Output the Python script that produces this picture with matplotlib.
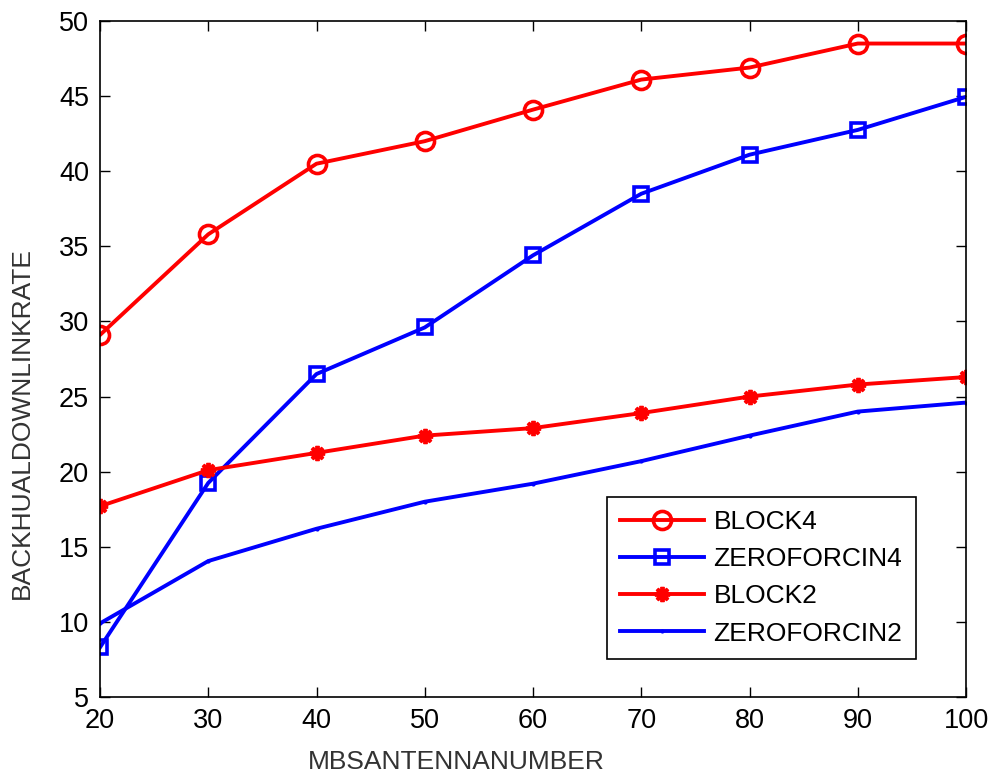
import matplotlib
matplotlib.use("Agg")
import matplotlib.pyplot as plt

plt.rcParams['font.family'] = ['Liberation Sans', 'DejaVu Sans']

antennas = [20, 30, 40, 50, 60, 70, 80, 90, 100]
block4 = [29.1, 35.8, 40.5, 42.0, 44.1, 46.1, 46.9, 48.5, 48.5]
zeroforcin4 = [8.3, 19.25, 26.5, 29.6, 34.4, 38.5, 41.1, 42.75, 44.95]
block2 = [17.7, 20.1, 21.25, 22.4, 22.9, 23.9, 25.0, 25.8, 26.3]
zeroforcin2 = [9.9, 14.05, 16.2, 18.0, 19.2, 20.7, 22.4, 24.0, 24.6]

x_ticks = [20, 30, 40, 50, 60, 70, 80, 90, 100]
y_ticks = [5, 10, 15, 20, 25, 30, 35, 40, 45, 50]

fig = plt.figure(figsize=(9.95, 7.83), dpi=100)
ax = fig.add_axes([100 / 995, 1 - 697 / 783, 866 / 995, 676 / 783])

lw = 2.8
ax.plot(antennas, block4, color='#ff0000', lw=lw, marker='o', ms=13,
        mfc='none', mew=2.6, label='BLOCK4')
ax.plot(antennas, zeroforcin4, color='#0000ff', lw=lw, marker='s', ms=10.5,
        mfc='none', mew=2.6, label='ZEROFORCIN4')
ax.plot(antennas, block2, color='#ff0000', lw=lw, marker=(8, 2, 0), ms=11,
        mew=2.8, label='BLOCK2')
ax.plot(antennas, zeroforcin2, color='#0000ff', lw=lw, marker='.', ms=4,
        label='ZEROFORCIN2')

ax.set_xlim(20, 100)
ax.set_ylim(5, 50)
ax.set_xticks(x_ticks)
ax.set_yticks(y_ticks)
ax.tick_params(direction='in', length=7, width=1, labelsize=19.5,
               top=True, right=True, pad=8)
for s in ax.spines.values():
    s.set_linewidth(1.2)

ax.set_xlabel('MBSANTENNANUMBER', fontsize=19, color='#333333')
ax.set_ylabel('BACKHUALDOWNLINKRATE', fontsize=19, color='#333333')
ax.xaxis.set_label_coords(0.411, -0.078)
ax.yaxis.set_label_coords(-0.076, 0.405)

leg = ax.legend(loc='upper left', bbox_to_anchor=(0.585, 0.296),
                borderaxespad=0, fontsize=19, handlelength=3.2,
                handletextpad=0.35, labelspacing=0.5, fancybox=False,
                framealpha=1, edgecolor='black', borderpad=0.5)
leg.get_frame().set_linewidth(1.2)

fig.savefig('out.png', dpi=100)
